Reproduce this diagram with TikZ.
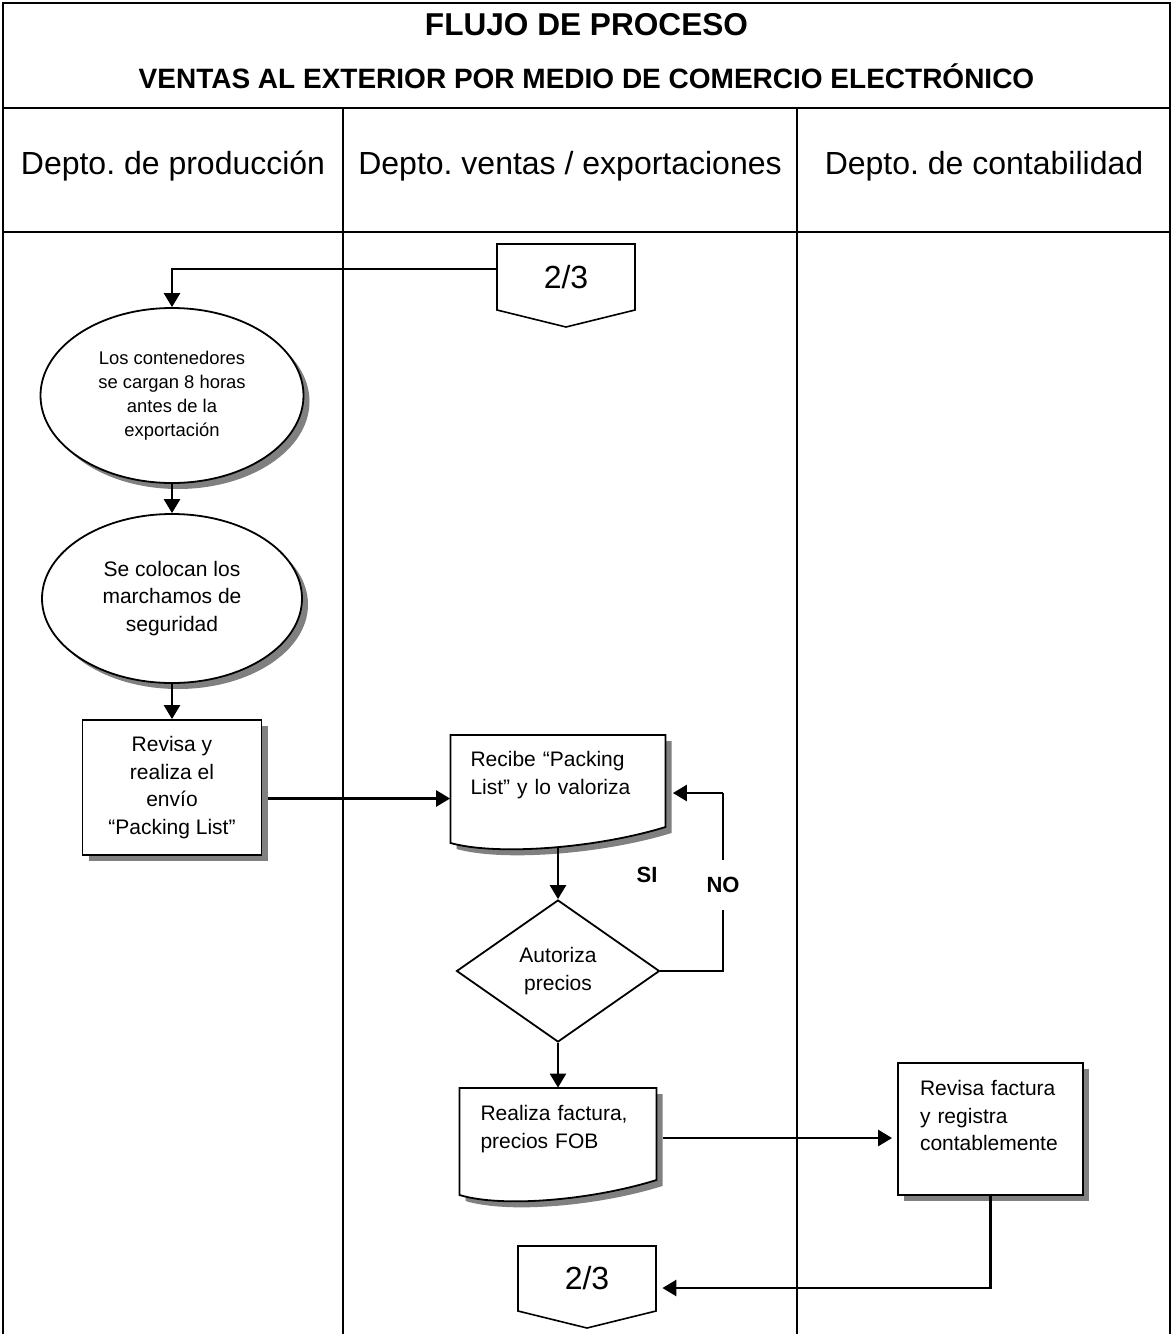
\documentclass[tikz,border=0pt]{standalone}
\usepackage{fontspec}
\setmainfont{Liberation Sans}
\usepackage{tikz}
\usetikzlibrary{arrows.meta,shapes.geometric,shadows}

\newcommand{\letra}[2]{\fontsize{#1}{#2}\selectfont}
\frenchspacing

\tikzset{
  marco/.style={line width=1.4pt},
  flecha/.style={line width=1.3pt,-{Triangle[length=7pt,width=8pt]}},
  linea/.style={line width=1.3pt},
  sombra/.style={drop shadow={shadow xshift=3pt,shadow yshift=-3pt,fill=black!50,opacity=1}},
  caja/.style={draw,fill=white,line width=0.9pt,sombra,inner sep=0pt,align=center,font=\letra{10.5}{13.75}},
  elipse/.style={ellipse,draw,fill=white,line width=0.9pt,sombra,inner sep=0pt,align=center},
  hoja/.style={draw,fill=white,line width=0.9pt,sombra},
  hojatexto/.style={inner sep=0pt,align=left,font=\letra{10.5}{13.75}},
  pagina/.style={draw,fill=white,line width=0.8pt},
  decision/.style={diamond,draw,fill=white,line width=0.9pt,inner sep=0pt,align=center,font=\letra{10.5}{13.75}},
  depto/.style={font=\letra{16}{19}},
  rotulo/.style={font=\bfseries\letra{11}{13}}
}

\begin{document}
\begin{tikzpicture}[x=0.5pt,y=-0.5pt]
\useasboundingbox (0,0) rectangle (1173,1334);

% marco y carriles
\draw[marco] (3,1334) -- (3,3) -- (1170,3) -- (1170,1334);
\draw[marco] (3,108) -- (1170,108);
\draw[marco] (3,232) -- (1170,232);
\draw[marco] (343,108) -- (343,1334);
\draw[marco] (797,108) -- (797,1334);
\node[font=\bfseries\letra{15.8}{18}] (titulo) at (586.5,25) {FLUJO DE PROCESO};
\node[font=\bfseries\letra{14}{16}] (subtitulo) at (586.5,76) {VENTAS AL EXTERIOR POR MEDIO DE COMERCIO ELECTRÓNICO};
\node[depto] (produccion) at (173,166) {Depto. de producción};
\node[depto] (ventas) at (570,166) {Depto. ventas / exportaciones};
\node[depto] (contabilidad) at (984,166) {Depto. de contabilidad};

% conector de pagina (arriba)
\draw[pagina] (497,244) -- (635,244) -- (635,310) -- (566,327) -- (497,310) -- cycle;
\node[font=\letra{16}{18},minimum width=69pt,minimum height=33pt] (pag1) at (566,277) {2/3};

% depto. de produccion
\node[elipse,minimum width=131.5pt,minimum height=87.5pt,font=\letra{9.2}{12}] (cargan) at (172,395.5)
  {Los contenedores\\se cargan 8 horas\\antes de la\\exportación};
\node[elipse,minimum width=130pt,minimum height=84.5pt,font=\letra{10.5}{13.75}] (marchamos) at (172,598.5)
  {Se colocan los\\marchamos de\\seguridad};
\node[caja,minimum width=89.5pt,minimum height=67.5pt] (envio) at (172,787.5)
  {Revisa y\\realiza el\\envío\\“Packing List”};

% depto. ventas / exportaciones
\draw[hoja] (450.5,735) -- (665.5,735) -- (665.5,827) .. controls (597.5,848) and (497.5,856) .. (450.5,843) -- cycle;
\node[hojatexto,text width=87.5pt,minimum width=107.5pt,minimum height=46pt,text depth=22pt] (recibe) at (558,781)
  {Recibe “Packing\\List” y lo valoriza};
\node[decision,minimum width=101.5pt,minimum height=71pt] (autoriza) at (558,971) {Autoriza\\precios};
\draw[hoja] (459.5,1088) -- (656.5,1088) -- (656.5,1180) .. controls (592.5,1200) and (502.5,1208) .. (459.5,1195) -- cycle;
\node[hojatexto,text width=77.5pt,minimum width=98.5pt,minimum height=46pt,text depth=21pt] (factura) at (558,1134)
  {Realiza factura,\\precios FOB};
\draw[pagina] (518,1246) -- (656,1246) -- (656,1311) -- (587,1328) -- (518,1311) -- cycle;
\node[font=\letra{16}{18},minimum width=69pt,minimum height=32.5pt] (pag2) at (587,1278.5) {2/3};

% depto. de contabilidad
\node[caja,align=left,text width=70.5pt,minimum width=92.5pt,minimum height=66pt,text depth=41pt] (registra) at (990.5,1129)
  {Revisa factura\\y registra\\contablemente};

% flechas
\coordinate (vueltaNO) at (723,793);
\draw[flecha] ([yshift=4pt]pag1.west) -| (cargan.north);
\draw[flecha] (cargan.south) -- (marchamos.north);
\draw[flecha] (marchamos.south) -- (envio.north);
\draw[flecha] ([xshift=3pt,yshift=-5.5pt]envio.east) -- ([yshift=-5.5pt]envio.east -| recibe.west);
\draw[flecha] ([yshift=-10pt]recibe.south) -- (autoriza.north);
\draw[linea] (autoriza.east) -| (vueltaNO);
\draw[flecha] (vueltaNO) -- ([xshift=3.5pt,yshift=-6pt]recibe.east);
\node[rotulo,fill=white,minimum height=25pt,inner xsep=1pt] (no) at (723,885) {NO};
\node[rotulo] (si) at (647,875) {SI};
\draw[flecha] (autoriza.south) -- (factura.north);
\draw[flecha] ([xshift=3pt,yshift=-2pt]factura.east) -- ([xshift=-2.5pt,yshift=-2pt]factura.east -| registra.west);
\draw[flecha] (registra.south) |- ([xshift=3pt,yshift=-4.75pt]pag2.east);
\end{tikzpicture}
\end{document}
